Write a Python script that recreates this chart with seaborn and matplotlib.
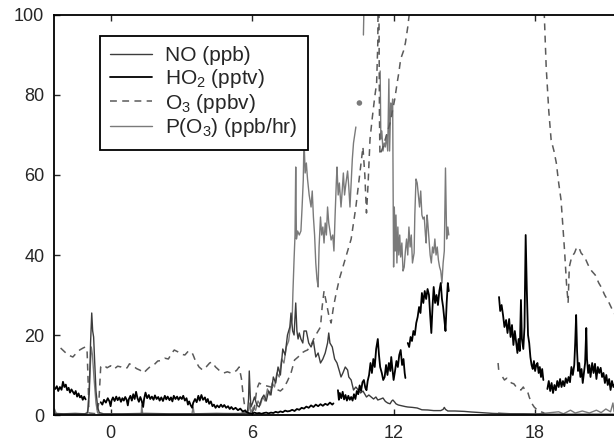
import numpy as np
import pandas as pd
import seaborn as sns
import matplotlib.pyplot as plt
from matplotlib.lines import Line2D

nan = np.nan

# NO (ppb)
no_t = [-2.38, -2.0, -1.5, -1.1, -0.97, -0.9, -0.85, -0.8, -0.76, -0.72, -0.68, -0.62, -0.55, -0.48, -0.3,
        0.5, 1.5, 2.5, 3.5, 4.5, 5.5, 5.8, 5.85, 5.88, 5.92, 5.95, 6.02, 6.1, 6.2, 6.3, 6.4, 6.5, 6.6, 6.7,
        6.8, 6.9, 7.0, 7.1, 7.2, 7.3, 7.4, 7.5, 7.6, 7.65, 7.72, 7.78, 7.85, 7.9, 7.95, 8.0, 8.07, 8.15, 8.2,
        8.3, 8.4, 8.5, 8.6, 8.7, 8.8, 8.9, 9.0, 9.1, 9.2, 9.25, 9.3, 9.4, 9.5, 9.6, 9.7, 9.77, 9.85, 9.95,
        10.05, 10.1, 10.2, 10.3, 10.4, 10.5, 10.6, 10.7, 10.75, 10.85, 10.95, 11.05, 11.15, 11.25, 11.33,
        11.45, 11.55, 11.65, 11.75, 11.85, 11.92, 11.97, 12.05, 12.1, 12.2, 12.35, 12.5, 12.6, 12.8, 13.0,
        13.2, 13.45, 13.7, 14.0, 14.1, 14.15, 14.2, 14.3, 14.6, 15.0, 15.3, 15.7, 16.2, 16.7, 17.5, 18.5,
        19.5, 20.5, 21.6]
no_v = [0.4, 0.3, 0.4, 0.3, 0.6, 6, 18, 25.5, 21, 19.5, 14, 6, 2, 0.6, 0.3,
        0.3, 0.4, 0.3, 0.3, 0.4, 0.3, 0.5, 4, 11, 5, 2, 3, 4.5, 2.5, 2, 4, 5, 3.5, 6,
        5, 9.5, 8, 12, 10, 16.5, 15, 20, 22, 25.5, 21, 20, 28, 21, 19, 20.5, 19, 18, 21,
        21, 18, 17, 18.5, 14.5, 15.5, 13, 14, 15.5, 18, 20.5, 18, 17, 14, 13, 11, 9.5, 10.5, 12,
        11.25, 9.5, 8.75, 6.25, 7, 6.25, 5.5, 6, 5.5, 4.5, 5, 4.5, 4, 4.5, 3.75,
        4, 4.25, 3.4, 3, 2.8, 3.5, 3.75, 3.2, 2.8, 2.5, 2.3, 2.1, 2, 1.9, 1.75,
        1.3, 1.25, 1.1, 1.1, 1.4, 1.9, 1.4, 1.0, 1.0, 0.9, 0.75, 0.6, 0.4, 0.3, 0.3, 0.2,
        0.2, 0.2, 0.2]

# HO2 (pptv)
ho2_t = [-2.35, -2.28, -2.22, -2.15, -2.08, -2.02, -1.96, -1.9, -1.84, -1.78, -1.72, -1.66, -1.6, -1.54,
         -1.48, -1.42, -1.36, -1.3, -1.24, -1.18, -1.12, -1.06, -1.0,
         -0.42, -0.35, -0.28, -0.2, -0.12, -0.05, 0.0, 0.04, 0.1, 0.17, 0.24, 0.3, 0.37, 0.44, 0.5, 0.56,
         0.62, 0.68, 0.73, 0.77, 0.84, 0.9, 0.96, 1.02, 1.08, 1.14, 1.2, 1.26, 1.32, 1.38, 1.42, 1.48, 1.55,
         1.62, 1.68, 1.75, 1.82, 1.88, 1.95, 2.02, 2.08, 2.15, 2.22, 2.3, 2.36, 2.42, 2.5, 2.56, 2.62, 2.68,
         2.75, 2.82, 2.88, 2.95, 3.02, 3.08, 3.15, 3.22, 3.28, 3.33, 3.4, 3.46, 3.5, 3.58, 3.65, 3.72, 3.78,
         3.85, 3.92, 4.0, 4.06, 4.12, 4.18, 4.25, 4.32, 4.38, 4.45, 4.52, 4.6, 4.68, 4.75, 4.82, 4.9, 4.98,
         5.05, 5.12, 5.2, 5.3, 5.4, 5.5, 5.6, 5.7, 5.8, 5.9, 6.0, 6.1, 6.2, 6.3, 6.4, 6.5, 6.6, 6.7, 6.8,
         6.9, 7.0, 7.1, 7.2, 7.3, 7.4, 7.5, 7.6, 7.7, 7.8, 7.9, 8.0, 8.1, 8.2, 8.3, 8.4, 8.5, 8.6, 8.7, 8.8,
         8.9, 9.0, 9.1, 9.2, 9.3, 9.4, 9.45, 9.55,
         9.64, 9.68, 9.72, 9.78, 9.84, 9.9, 9.96, 10.02, 10.08, 10.14, 10.2, 10.26, 10.32, 10.38, 10.44,
         10.5, 10.56, 10.62, 10.68, 10.74, 10.8, 10.85, 10.9, 10.96, 11.02, 11.08, 11.14, 11.2, 11.26,
         11.33, 11.38, 11.43, 11.5, 11.56, 11.62, 11.68, 11.74, 11.8, 11.86, 11.9, 11.95, 12.0, 12.06,
         12.12, 12.18, 12.24, 12.3, 12.36, 12.42, 12.47, 12.5, 12.55,
         12.6, 12.66, 12.72, 12.78, 12.84, 12.9, 12.96, 13.02, 13.08, 13.14, 13.2, 13.26, 13.32, 13.38,
         13.44, 13.5, 13.55, 13.6, 13.65, 13.7, 13.76, 13.82, 13.88, 13.94, 14.0, 14.05, 14.1, 14.15, 14.2,
         14.25, 14.3, 14.34, 14.4,
         16.47, 16.52, 16.58, 16.64, 16.7, 16.77, 16.83, 16.9, 16.96, 17.02, 17.08, 17.14, 17.2, 17.25,
         17.3, 17.35, 17.4, 17.44, 17.5, 17.55, 17.6, 17.65, 17.7, 17.75, 17.8, 17.85, 17.9, 17.95, 18.0,
         18.05, 18.1, 18.15, 18.2, 18.25, 18.3, 18.35, 18.42,
         18.52, 18.58, 18.64, 18.7, 18.76, 18.82, 18.88, 18.94, 19.0, 19.06, 19.12, 19.18, 19.24, 19.3,
         19.36, 19.42, 19.48, 19.54, 19.6, 19.66, 19.7, 19.74, 19.78, 19.82, 19.87, 19.92, 19.97, 20.02,
         20.07, 20.12, 20.17, 20.2, 20.25, 20.3, 20.35, 20.42, 20.48, 20.54, 20.6, 20.66, 20.72, 20.78,
         20.84, 20.9, 20.96, 21.02, 21.08, 21.14, 21.2, 21.26, 21.32, 21.4, 21.5, 21.6]
ho2_v = [6.5, 7.2, 6.0, 7.0, 6.3, 8.3, 7.0, 7.6, 6.2, 6.8, 5.6, 6.4, 5.8, 5.2,
         6.0, 4.6, 5.4, 4.4, 4.8, 3.8, 4.6, 3.9, nan,
         3.2, 2.6, 3.8, 3.1, 4.2, 3.4, 2.2, 3.6, 4.4, 3.5, 4.6, 3.7, 4.4, 3.3, 4.2, 3.6,
         4.5, 3.8, 2.4, 3.9, 4.8, 3.6, 5.2, 4.0, 5.8, 4.2, 3.3, 4.5, 3.5, 2.0, 4.0, 5.6, 4.2,
         5.0, 4.0, 4.6, 3.8, 4.9, 4.0, 4.5, 3.6, 4.4, 3.5, 4.8, 3.9, 4.6, 3.7, 4.4, 3.4, 4.8,
         4.0, 4.6, 3.8, 4.5, 4.0, 4.8, 3.6, 4.2, 2.6, 3.4, 2.4, 1.8, 3.0, 4.0, 3.2, 4.8, 3.6,
         5.0, 3.8, 4.4, 3.2, 4.0, 2.8, 3.4, 2.2, 2.6, 1.8, 2.4, 1.9, 2.6, 2.0, 2.5, 1.8, 2.2,
         1.5, 2.0, 1.4, 1.8, 1.2, 1.6, 0.9, 1.1, 0.6, 0.4, 0.3, 0.6, 0.4, 0.5, 0.3, 0.5, 0.6, 0.4, 0.6,
         0.5, 0.8, 0.6, 0.9, 0.7, 1.1, 0.9, 1.0, 1.3, 1.0, 1.5, 1.3, 1.8, 1.6, 2.1, 1.8, 2.4, 2.0, 2.6, 2.2,
         2.7, 2.3, 2.8, 2.5, 3.1, 2.6, 2.9, nan,
         6.2, 3.8, 5.5, 4.2, 5.8, 3.9, 5.0, 3.6, 4.8, 3.8, 4.5, 3.6, 5.2, 4.0, 6.0,
         5.2, 7.4, 6.0, 8.2, 8.75, 6.8, 6.2, 8.5, 10.0, 13.0, 10.5, 14.0, 12.0, 16.5,
         19.0, 15.0, 12.0, 10.5, 8.75, 9.5, 12.5, 10.0, 13.0, 11.0, 14.5, 11.5, 8.75, 11.0,
         13.5, 12.0, 15.0, 16.25, 12.5, 14.0, 10.5, 9.25, nan,
         18.0, 17.0, 19.5, 18.5, 21.0, 20.0, 23.0, 24.5, 27.0, 25.5, 30.5, 28.0, 31.0, 29.0,
         31.5, 30.0, 25.0, 20.5, 27.0, 32.0, 28.0, 30.0, 27.5, 31.0, 33.0, 29.0, 27.0, 24.0, 21.0,
         28.0, 33.0, 31.0, nan,
         29.5, 26.0, 27.5, 25.0, 22.0, 23.75, 20.5, 24.0, 19.5, 22.5, 17.5, 21.0, 18.0, 15.5,
         19.0, 16.0, 28.75, 19.0, 16.5, 22.0, 45.0, 31.0, 20.0, 18.0, 14.5, 12.5, 11.5, 13.5, 11.0,
         12.5, 13.0, 10.5, 12.0, 9.5, 11.5, 8.75, nan,
         6.5, 8.5, 6.0, 8.0, 5.5, 7.5, 6.2, 8.5, 7.0, 9.0, 7.0, 8.5, 7.2, 9.2,
         8.0, 9.5, 8.2, 12.0, 10.0, 12.5, 18.0, 25.0, 16.0, 11.0, 13.0, 9.5, 11.5, 8.0,
         10.5, 13.0, 21.75, 14.0, 10.5, 12.5, 9.5, 13.0, 10.5, 12.8, 9.0, 12.0, 10.5, 11.8,
         9.5, 10.5, 8.0, 10.0, 7.5, 9.0, 6.25, 8.5, 7.0, 8.0, 7.2, 7.8]

# O3 (ppbv)
o3_t = [-2.12, -1.95, -1.8, -1.6, -1.45, -1.3, -1.15, -1.07, -1.0, -0.95, -0.92, -0.6, -0.5, -0.42, -0.3,
        -0.15, 0.0, 0.15, 0.3, 0.45, 0.6, 0.7, 0.8, 0.95, 1.1, 1.25, 1.4, 1.55, 1.7, 1.85, 2.0, 2.15, 2.3,
        2.45, 2.6, 2.7, 2.85, 3.0, 3.15, 3.3, 3.45, 3.5, 3.6, 3.75, 3.9, 4.05, 4.2, 4.3, 4.45, 4.6, 4.8,
        4.95, 5.1, 5.2, 5.35, 5.45, 5.55, 5.62, 5.7, 5.75, 6.0, 6.1, 6.2, 6.3, 6.45, 6.6, 6.8, 7.0, 7.2,
        7.35, 7.5, 7.65, 7.8, 7.95, 8.1, 8.25, 8.35, 8.5, 8.65, 8.8, 8.9, 8.97, 9.05, 9.15, 9.25, 9.35,
        9.45, 9.55, 9.7, 9.85, 10.0, 10.1, 10.2, 10.3, 10.4, 10.5, 10.6, 10.7, 10.78, 10.85, 10.92, 11.0,
        11.1, 11.2, 11.28, 11.33, 11.35, 11.38, 11.4, 11.42, 11.55, 11.7, 11.85, 11.95, 12.05, 12.15,
        12.22, 12.3, 12.42, 12.5, 12.6, 12.68, 12.8, 12.9,
        18.3, 18.39, 18.47, 18.58, 18.68, 18.8, 18.9, 19.0, 19.1, 19.18, 19.25, 19.33, 19.4, 19.45, 19.55,
        19.67, 19.77, 19.87, 19.95, 20.1, 20.25, 20.4, 20.55, 20.7, 20.8, 20.95, 21.1, 21.3, 21.45, 21.6]
o3_v = [16.75, 15.8, 15.0, 14.5, 15.5, 16.3, 16.8, 17.0, 16.5, 8.0, 0.5, 0.3, 3.0, 12.0, 12.5,
        11.8, 12.3, 11.5, 12.2, 12.0, 11.6, 11.8, 12.8, 12.3, 11.6, 11.2, 10.5, 11.4, 12.2, 12.6, 13.5, 13.6, 14.2,
        14.0, 15.5, 16.25, 15.8, 15.2, 15.0, 16.0, 15.6, 15.0, 13.5, 12.0, 11.25, 12.0, 13.0, 13.25, 12.0, 11.2, 10.5,
        10.8, 10.5, 10.5, 11.2, 12.0, 9.0, 5.0, 1.5, 0.5, 0.3, 2.0, 6.5, 8.0, 7.5, 7.3, 7.0, 6.5, 6.0,
        6.8, 8.5, 10.5, 13.75, 14.5, 15.5, 16.0, 16.25, 17.5, 19.5, 21.0, 22.0, 27.0, 31.0, 28.0, 25.0, 23.0,
        27.0, 30.0, 34.0, 37.0, 40.0, 42.0, 44.0, 48.0, 52.0, 57.0, 62.0, 67.0, 60.0, 50.5, 58.0, 69.0,
        74.5, 79.5, 83.0, 93.0, 110.0, 100.0, 75.0, 65.0, 67.0, 70.0, 73.0, 76.0, 79.0, 83.0,
        85.5, 89.0, 91.0, 93.0, 97.0, 101.0, 110.0, nan,
        110.0, 100.0, 87.0, 76.0, 68.75, 66.0, 63.0, 58.0, 53.75, 47.0, 41.0, 33.0, 28.0, 37.0, 39.5,
        40.5, 42.0, 41.7, 40.5, 39.5, 37.5, 36.0, 35.0, 33.0, 32.0, 30.0, 28.5, 26.0, 24.5, 23.0]

# second, lower O3 trace in the evening
o3b_t = [16.43, 16.46, 16.5, 16.62, 16.7, 16.8, 16.9, 17.0, 17.1, 17.2, 17.3, 17.4, 17.5, 17.6, 17.7,
         17.75, 17.85, 17.96, 18.1, 18.25, 18.39]
o3b_v = [13.0, 11.0, nan, 9.5, 8.75, 9.2, 8.5, 8.0, 7.8, 7.0, 6.5, 6.25, 7.0, 5.8, 5.5,
         4.5, 3.0, 2.0, 1.2, 0.8, 0.5]

# P(O3) (ppb/hr)
po3_t = [-2.38, -2.3, -1.5, -1.0, -0.95, -0.88, -0.82, -0.77, -0.7, -0.62, -0.55, -0.4, 0.5, 1.3, 1.32,
         1.36, 2.5, 3.45, 3.5, 3.54, 4.5, 5.5, 5.85, 5.9, 5.95, 6.05, 6.15, 6.25, 6.35, 6.45, 6.55, 6.65,
         6.75, 6.85, 6.95, 7.05, 7.15, 7.25, 7.35, 7.45, 7.55, 7.62, 7.7, 7.73, 7.78, 7.82, 7.85, 7.88,
         7.93, 8.0, 8.07, 8.12, 8.17, 8.2, 8.25, 8.3, 8.35, 8.42, 8.5, 8.55, 8.6, 8.65, 8.7, 8.75, 8.8,
         8.84, 8.9, 8.95, 9.0, 9.05, 9.1, 9.15, 9.2, 9.25, 9.3, 9.35, 9.42, 9.47, 9.52, 9.57, 9.6, 9.65,
         9.7, 9.77, 9.82, 9.87, 9.92, 9.98, 10.05, 10.1, 10.15, 10.2, 10.25, 10.3, 10.35, 10.4, 10.45,
         10.72, 10.75, 10.78, 10.8,
         11.43, 11.46, 11.5, 11.55, 11.6, 11.65, 11.7, 11.75, 11.8, 11.83, 11.88, 11.92, 11.96, 11.98,
         12.0, 12.03, 12.07, 12.1, 12.14, 12.18, 12.22, 12.26, 12.3, 12.35, 12.4, 12.45, 12.5, 12.55,
         12.6, 12.65, 12.7, 12.75, 12.8, 12.87, 12.9, 12.95, 13.0, 13.05, 13.1, 13.15, 13.2, 13.25,
         13.3, 13.35, 13.38, 13.42, 13.45, 13.5, 13.55, 13.6, 13.65, 13.7, 13.75, 13.8, 13.85, 13.9,
         13.95, 14.0, 14.05, 14.1, 14.15, 14.2, 14.25, 14.3, 14.34, 14.4,
         16.45, 17.0, 18.0, 18.5, 19.0, 19.2, 19.5, 19.7, 20.0, 20.3, 20.6, 20.8, 21.0, 21.2, 21.3,
         21.35, 21.6]
po3_v = [1.5, 0.3, 0.2, 0.3, 2.0, 10.0, 17.0, 15.0, 9.0, 3.0, 0.5, 0.2, 0.2, 0.3, 2.5,
         0.3, 0.2, 0.3, 2.0, 0.3, 0.3, 0.4, 1.0, 3.0, 0.5, 2.0, 1.2, 3.5, 2.5, 4.5, 3.5, 6.5,
         5.0, 8.0, 7.0, 10.5, 9.5, 14.0, 13.0, 17.0, 18.5, 22.0, 24.0, 30.5, 39.0, 45.0, 62.0, 44.0,
         46.0, 45.0, 46.0, 52.0, 58.75, 69.0, 60.5, 63.0, 59.0, 55.0, 52.0, 56.0, 49.5, 45.0, 38.0, 34.0, 32.0,
         42.0, 49.5, 45.0, 47.0, 43.0, 48.0, 45.0, 52.0, 48.0, 46.0, 43.75, 45.0, 41.0, 50.0, 58.0, 62.0, 55.0,
         58.0, 52.0, 56.0, 60.5, 55.0, 58.0, 61.0, 57.0, 52.0, 58.0, 64.0, 68.0, 70.0, 72.0, nan,
         95.0, 104.0, 110.0, nan,
         86.0, 69.0, 71.0, 66.0, 68.0, 67.0, 70.0, 66.0, 84.0, 66.0, 78.0, 75.0, 79.0, 56.0,
         37.0, 52.0, 41.0, 50.0, 38.0, 47.0, 40.0, 45.0, 39.5, 43.0, 36.0, 37.0, 41.0, 44.0,
         40.0, 47.0, 42.0, 45.0, 38.0, 40.5, 50.0, 59.0, 58.0, 55.0, 52.0, 56.0, 50.0, 49.0,
         49.5, 45.0, 43.0, 50.0, 48.0, 44.0, 40.0, 38.0, 42.0, 40.5, 44.0, 40.0, 42.0, 38.75,
         37.0, 36.0, 33.0, 38.0, 41.0, 61.75, 44.0, 47.0, 45.0, nan,
         0.5, 0.3, 0.2, 0.5, 0.8, 0.3, 1.2, 0.5, 1.0, 0.5, 1.2, 0.6, 1.5, 0.8, 3.0,
         0.8, 1.0]

# lone P(O3) point
po3_dot_t = [10.55]
po3_dot_v = [78.0]


def draw(ax, t, v, **kw):
    df = pd.DataFrame({'t': t, 'v': v})
    seg = df['v'].isna().cumsum()
    for _, part in df.dropna().groupby(seg[df['v'].notna()]):
        sns.lineplot(data=part, x='t', y='v', ax=ax, estimator=None, sort=False, **kw)


sns.set_style('ticks')
plt.rcParams['font.family'] = ['Liberation Sans', 'DejaVu Sans']
plt.rcParams['mathtext.default'] = 'regular'

fig = plt.figure(figsize=(6.14, 4.41), dpi=100)
ax = fig.add_axes([54 / 614, 26 / 441, 566 / 614, 400 / 441])

c_no, c_ho2, c_o3, c_po3 = '#3c3c3c', '#000000', '#5a5a5a', '#7a7a7a'
dash = (4.5, 3.5)

draw(ax, po3_t, po3_v, color=c_po3, lw=1.0)
draw(ax, o3_t, o3_v, color=c_o3, lw=1.1, dashes=dash)
draw(ax, o3b_t, o3b_v, color=c_o3, lw=1.1, dashes=dash)
draw(ax, no_t, no_v, color=c_no, lw=1.0)
draw(ax, ho2_t, ho2_v, color=c_ho2, lw=1.3)
sns.scatterplot(x=po3_dot_t, y=po3_dot_v, ax=ax, color=c_po3, s=16, edgecolor='none')

ax.set_xlim(-2.4, 21.6)
ax.set_ylim(0, 100)
ax.set_xticks([0, 6, 12, 18])
ax.set_yticks([0, 20, 40, 60, 80, 100])
ax.set_xlabel('')
ax.set_ylabel('')
ax.tick_params(direction='in', top=True, right=True, length=4, width=1, labelsize=13, pad=7)
for s in ax.spines.values():
    s.set_linewidth(1.3)
    s.set_color('black')

handles = [
    Line2D([], [], color=c_no, lw=1.0),
    Line2D([], [], color=c_ho2, lw=1.3),
    Line2D([], [], color=c_o3, lw=1.1, dashes=dash),
    Line2D([], [], color=c_po3, lw=1.0),
]
labels = ['NO (ppb)', 'HO$_2$ (pptv)', 'O$_3$ (ppbv)', 'P(O$_3$) (ppb/hr)']
leg = ax.legend(handles, labels, loc='upper left', bbox_to_anchor=(0.081, 0.9475), borderaxespad=0,
                fontsize=15, frameon=True, fancybox=False, edgecolor='black', framealpha=1,
                handlelength=2.0, handletextpad=0.65, labelspacing=0.08, borderpad=0.5)
leg.get_frame().set_linewidth(1.3)

plt.savefig('out.png', dpi=100)
